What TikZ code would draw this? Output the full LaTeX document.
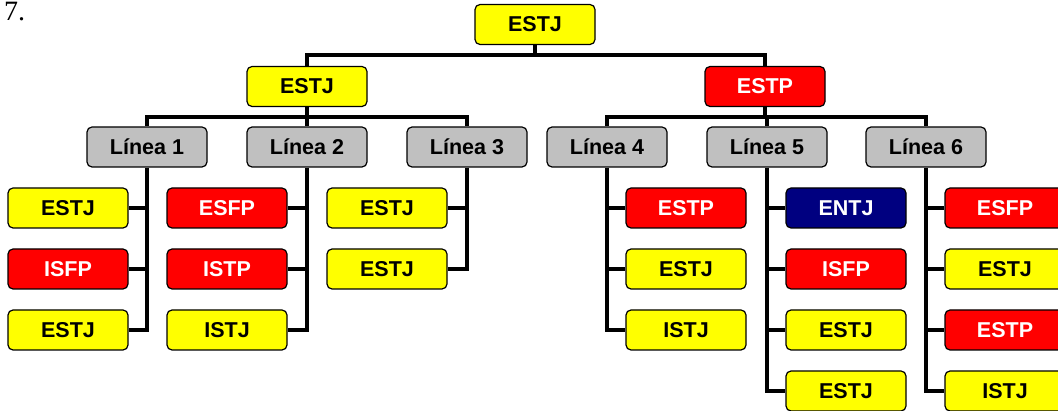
\documentclass[tikz,border=0pt]{standalone}
\usepackage{fontspec}
\setmainfont{Liberation Sans}
\newfontfamily\seriffont{Liberation Serif}
\definecolor{navyb}{HTML}{000080}
\definecolor{grayb}{HTML}{C0C0C0}
\definecolor{yelb}{HTML}{FFFF00}
\definecolor{redb}{HTML}{FF0000}
\begin{document}
\begin{tikzpicture}[x=1pt,y=-1pt,
  box/.style={draw=black, line width=1.2pt, rounded corners=5pt,
    minimum width=120pt, minimum height=40pt, inner sep=0pt,
    font=\fontsize{21.5}{24}\selectfont\bfseries},
  yelbox/.style={box, fill=yelb, text=black},
  redbox/.style={box, fill=redb, text=white},
  navybox/.style={box, fill=navyb, text=white},
  graybox/.style={box, fill=grayb, text=black},
  conn/.style={draw=black, line width=3.5pt, line join=miter}]
\useasboundingbox (0,0) rectangle (1058,411);
\clip (0,0) rectangle (1058,411);
\node[anchor=base west, font=\seriffont\fontsize{28}{30}\selectfont, inner sep=0pt] (num) at (4,21) {7.};
% level 1-2
\node[yelbox] (top) at (535,24.5) {ESTJ};
\node[yelbox] (e2) at (307,86.5) {ESTJ};
\node[redbox] (p2) at (765,86.5) {ESTP};
% level 3
\node[graybox] (L1) at (147,147) {Línea 1};
\node[graybox] (L2) at (307,147) {Línea 2};
\node[graybox] (L3) at (467,147) {Línea 3};
\node[graybox] (L4) at (607,147) {Línea 4};
\node[graybox] (L5) at (767,147) {Línea 5};
\node[graybox] (L6) at (926,147) {Línea 6};
% leaves
\node[yelbox] (a1) at (68,208) {ESTJ};
\node[redbox] (a2) at (68,269) {ISFP};
\node[yelbox] (a3) at (68,330) {ESTJ};
\node[redbox] (b1) at (227,208) {ESFP};
\node[redbox] (b2) at (227,269) {ISTP};
\node[yelbox] (b3) at (227,330) {ISTJ};
\node[yelbox] (c1) at (387,208) {ESTJ};
\node[yelbox] (c2) at (387,269) {ESTJ};
\node[redbox] (d1) at (686,208) {ESTP};
\node[yelbox] (d2) at (686,269) {ESTJ};
\node[yelbox] (d3) at (686,330) {ISTJ};
\node[navybox] (f1) at (846,208) {ENTJ};
\node[redbox] (f2) at (846,269) {ISFP};
\node[yelbox] (f3) at (846,330) {ESTJ};
\node[yelbox] (f4) at (846,391) {ESTJ};
\node[redbox] (g1) at (1005,208) {ESFP};
\node[yelbox] (g2) at (1005,269) {ESTJ};
\node[redbox] (g3) at (1005,330) {ESTP};
\node[yelbox] (g4) at (1005,391) {ISTJ};
% connectors
\draw[conn] (top.south) -- ++(0,10) -| (e2.north);
\draw[conn] (top.south) -- ++(0,10) -| (p2.north);
\draw[conn] (e2.south) -- ++(0,10) -| (L1.north);
\draw[conn] (e2.south) -- (L2.north);
\draw[conn] (e2.south) -- ++(0,10) -| (L3.north);
\draw[conn] (p2.south) -- ++(0,10) -| (L4.north);
\draw[conn] (p2.south) -- ++(0,10) -| (L5.north);
\draw[conn] (p2.south) -- ++(0,10) -| (L6.north);
\draw[conn] (L1.south) |- (a3.east);
\draw[conn] (L1.south |- a1.east) -- (a1.east);
\draw[conn] (L1.south |- a2.east) -- (a2.east);
\draw[conn] (L2.south) |- (b3.east);
\draw[conn] (L2.south |- b1.east) -- (b1.east);
\draw[conn] (L2.south |- b2.east) -- (b2.east);
\draw[conn] (L3.south) |- (c2.east);
\draw[conn] (L3.south |- c1.east) -- (c1.east);
\draw[conn] (L4.south) |- (d3.west);
\draw[conn] (L4.south |- d1.west) -- (d1.west);
\draw[conn] (L4.south |- d2.west) -- (d2.west);
\draw[conn] (L5.south) |- (f4.west);
\draw[conn] (L5.south |- f1.west) -- (f1.west);
\draw[conn] (L5.south |- f2.west) -- (f2.west);
\draw[conn] (L5.south |- f3.west) -- (f3.west);
\draw[conn] (L6.south) |- (g4.west);
\draw[conn] (L6.south |- g1.west) -- (g1.west);
\draw[conn] (L6.south |- g2.west) -- (g2.west);
\draw[conn] (L6.south |- g3.west) -- (g3.west);
\end{tikzpicture}
\end{document}
